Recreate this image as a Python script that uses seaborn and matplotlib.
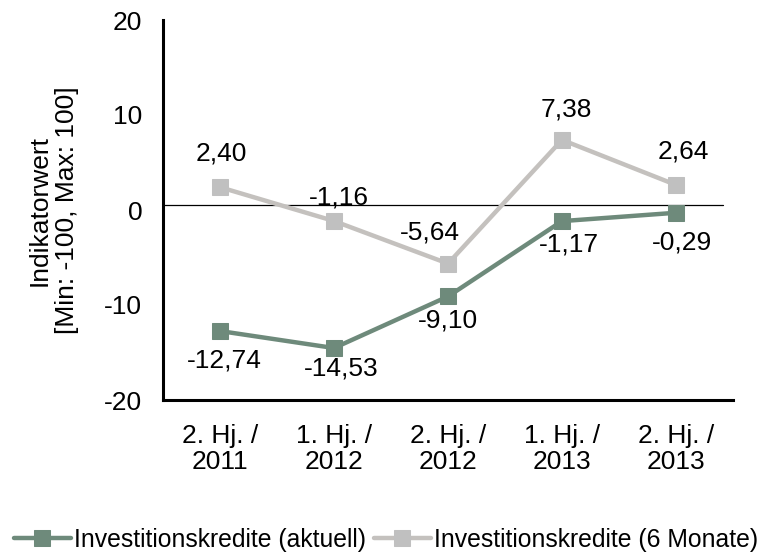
import matplotlib
matplotlib.use("Agg")
import matplotlib.pyplot as plt
import seaborn as sns
import pandas as pd
import numpy as np

sns.set_theme(style="white")
plt.rcParams["font.family"] = ["Liberation Sans", "DejaVu Sans"]
plt.rcParams["text.color"] = "black"
plt.rcParams["axes.labelcolor"] = "black"
plt.rcParams["xtick.color"] = "black"
plt.rcParams["ytick.color"] = "black"

periods = ["2. Hj. /\n2011", "1. Hj. /\n2012", "2. Hj. /\n2012", "1. Hj. /\n2013", "2. Hj. /\n2013"]
aktuell = [-12.74, -14.53, -9.10, -1.17, -0.29]
sechs_monate = [2.40, -1.16, -5.64, 7.38, 2.64]
series_names = ["Investitionskredite (aktuell)", "Investitionskredite (6 Monate)"]
colors = ["#6E8A7B", "#C4C1BE"]
marker_colors = ["#6E8A7B", "#C0C0C0"]

# label offsets from their point, in pixels (dx, dy with dy upwards)
offsets_6m = [(1, 34), (5, 24), (-18, 31), (4, 30), (7, 33)]
offsets_akt = [(4, -29), (7, -20), (0, -24), (7, -23), (6, -30)]

df = pd.DataFrame({
    "pos": list(range(len(periods))) * 2,
    "wert": aktuell + sechs_monate,
    "serie": [series_names[0]] * len(periods) + [series_names[1]] * len(periods),
})

FS = 19
PX = 0.72  # points per pixel at 100 dpi

fig = plt.figure(figsize=(7.72, 5.53), dpi=100)
ax = fig.add_axes([163 / 772, 1 - 400 / 553, 570 / 772, 380 / 553])

ax.axhline(0.55, color="black", lw=0.9, xmin=0.0, xmax=0.983, zorder=1)

for name, col, mcol in zip(series_names, colors, marker_colors):
    sub = df[df["serie"] == name]
    sns.lineplot(data=sub, x="pos", y="wert", ax=ax, color=col, lw=3.2,
                 marker="s", markersize=11.5, markerfacecolor=mcol,
                 markeredgecolor=mcol, label=name, zorder=3)

fmt = lambda v: f"{v:.2f}".replace(".", ",")
for vals, offs in ((sechs_monate, offsets_6m), (aktuell, offsets_akt)):
    for i, (v, (dx, dy)) in enumerate(zip(vals, offs)):
        ax.annotate(fmt(v), (i, v), xytext=(dx * PX, dy * PX),
                    textcoords="offset points", ha="center", va="center",
                    fontsize=FS, color="black", zorder=4)

ax.set_xlim(-0.5, len(periods) - 0.5)
ax.set_ylim(-20, 20)
ax.set_yticks([-20, -10, 0, 10, 20])
ax.set_yticklabels(["-20", "-10", "0", "10", "20"], fontsize=FS)
ax.set_xticks(range(len(periods)))
ax.set_xticklabels(periods, fontsize=FS, linespacing=1.15)
ax.set_xticks(np.arange(-0.5, len(periods), 1.0), minor=True)
ax.tick_params(axis="x", which="major", length=0, pad=17)
ax.tick_params(axis="x", which="minor", length=6, width=2, color="black", direction="out")
ax.tick_params(axis="y", length=0, pad=15)
ax.set_xlabel("")
ax.set_ylabel("Indikatorwert\n[Min: -100, Max: 100]", fontsize=FS, labelpad=18,
              linespacing=1.2)

for s in ["top", "right"]:
    ax.spines[s].set_visible(False)
for s in ["left", "bottom"]:
    ax.spines[s].set_color("black")
    ax.spines[s].set_linewidth(2.2)

ax.legend_.remove()
handles, labels = ax.get_legend_handles_labels()
fig.legend(handles, labels, loc="center", bbox_to_anchor=(0.5, 1 - 540 / 553),
           ncol=2, frameon=False, fontsize=17.8, handlelength=2.3,
           handletextpad=0.15, columnspacing=0.3, borderaxespad=0)

fig.savefig("out.png", dpi=100)
